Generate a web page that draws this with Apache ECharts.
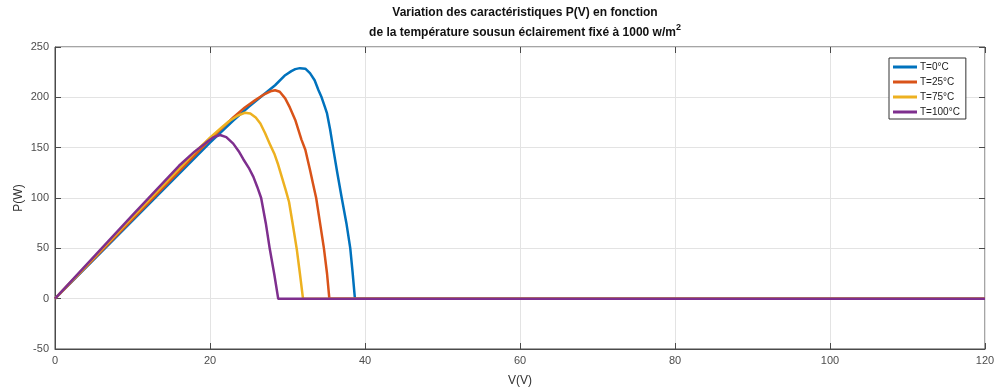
<!DOCTYPE html>
<html>
<head>
<meta charset="utf-8">
<script src="https://cdn.jsdelivr.net/npm/echarts@6/dist/echarts.min.js"></script>
<style>html,body{margin:0;padding:0;background:#fff;}#c{width:998px;height:392px;}</style>
</head>
<body>
<div id="c"></div>
<script>
const seriesNames = ['T=0°C', 'T=25°C', 'T=75°C', 'T=100°C'];
const xTicks = [0, 20, 40, 60, 80, 100, 120];
const yTicks = [-50, 0, 50, 100, 150, 200, 250];

const v0 = [0, 10, 20, 23, 25, 26.5, 28.4, 29.7, 30.5, 31.0, 31.6, 32.3, 32.9, 33.5, 34.0, 34.4, 34.8, 35.1, 35.5, 35.9, 36.4, 37.0, 37.6, 38.1, 38.4, 38.7, 120];
const p0 = [0, 77.5, 155, 177, 190.5, 200, 212, 222, 226, 228, 229, 228.5, 224, 217, 207, 200, 191, 184, 168, 149, 126, 100, 75, 50, 26, 0, 0];

const v25 = [0, 10, 20, 23, 24.5, 25.8, 27, 27.8, 28.4, 29.0, 29.7, 30.3, 31.0, 31.8, 32.3, 32.9, 33.3, 33.7, 34.2, 34.7, 35.1, 35.4, 120];
const p25 = [0, 79, 158, 180, 190, 197, 203, 206, 207, 205.5, 199, 190, 177.5, 158, 148, 128, 114, 100, 75, 50, 25, 0, 0];

const v75 = [0, 10, 18, 20, 21.5, 22.5, 23.5, 24.5, 25.2, 25.9, 26.5, 27.1, 27.7, 28.3, 28.8, 29.3, 29.8, 30.2, 30.7, 31.2, 31.6, 32, 120];
const p75 = [0, 81, 145, 160, 170, 176.5, 181.5, 184.7, 184, 180, 174, 164.5, 154, 144, 133, 120, 107, 96, 73, 49, 25, 0, 0];

const v100 = [0, 10, 16, 18, 19.5, 20.5, 21.3, 22.1, 23.0, 23.7, 24.3, 25.0, 25.6, 26.1, 26.6, 27.2, 27.7, 28.3, 28.8, 120];
const p100 = [0, 83, 132, 146, 155, 160.5, 162.6, 160.5, 154, 146.5, 138.5, 130, 121, 111, 100, 75, 50, 24, 0, 0];

const colors = ['#0072BD', '#D95319', '#EDB120', '#7E2F8E'];
const vs = [v0, v25, v75, v100];
const ps = [p0, p25, p75, p100];

const chart = echarts.init(document.getElementById('c'), null, {renderer: 'canvas'});
const font = 'Liberation Sans, Arial, Helvetica, sans-serif';
const axisColor = '#4a4a4a';

const series = seriesNames.map((name, i) => ({
  name: name,
  type: 'line',
  data: vs[i].map((v, j) => [v, ps[i][j]]),
  showSymbol: false,
  symbol: 'none',
  smooth: false,
  lineStyle: {width: 2.5, color: colors[i], join: 'round'},
  itemStyle: {color: colors[i]},
  animation: false,
  z: 2 + i
}));

const tickOnly = {
  axisLine: {show: false, onZero: false},
  axisTick: {show: true, inside: true, length: 6, lineStyle: {color: axisColor}},
  axisLabel: {show: false},
  splitLine: {show: false}
};

chart.setOption({
  animation: false,
  backgroundColor: '#fff',
  title: {
    left: 520,
    top: -2,
    textAlign: 'center',
    text: '{a|Variation des caractéristiques P(V) en fonction}\n{a|de la température sousun éclairement fixé à 1000 w/m}{s|2}',
    textStyle: {
      rich: {
        a: {fontFamily: font, fontSize: 12, fontWeight: 'bold', color: '#111', lineHeight: 20},
        s: {fontFamily: font, fontSize: 9, fontWeight: 'bold', color: '#111', verticalAlign: 'top', lineHeight: 12, padding: [0, 0, 6, 0]}
      }
    }
  },
  graphic: [{
    type: 'text',
    x: 19, y: 198,
    rotation: Math.PI / 2,
    style: {text: 'P(W)', font: '12px ' + font, fill: '#333', textAlign: 'center', textVerticalAlign: 'middle'}
  }],
  legend: {
    orient: 'vertical',
    left: 889,
    top: 58,
    padding: [4, 6, 2, 4],
    itemGap: 5,
    itemWidth: 24,
    itemHeight: 3,
    icon: 'rect',
    borderColor: '#333',
    borderWidth: 1,
    backgroundColor: '#fff',
    textStyle: {fontFamily: font, fontSize: 10, color: '#222', padding: [0, 0, 0, -2]},
    data: seriesNames
  },
  grid: {left: 55, right: 13, top: 47, bottom: 43, show: true, borderColor: axisColor, borderWidth: 1, containLabel: false},
  xAxis: [{
    type: 'value',
    min: 0, max: 120, interval: 20,
    name: 'V(V)',
    nameLocation: 'middle',
    nameGap: 26,
    nameTextStyle: {fontFamily: font, fontSize: 12, color: '#333'},
    axisLine: {show: true, onZero: false, lineStyle: {color: axisColor}},
    axisTick: {show: true, inside: true, length: 6, lineStyle: {color: axisColor}},
    axisLabel: {fontFamily: font, fontSize: 11, color: '#4d4d4d', margin: 6,
      formatter: v => xTicks.includes(v) ? String(v) : ''},
    splitLine: {show: true, lineStyle: {color: '#e3e3e3', width: 1}}
  }, Object.assign({type: 'value', position: 'top', min: 0, max: 120, interval: 20}, tickOnly)],
  yAxis: [{
    type: 'value',
    min: -50, max: 250, interval: 50,
    axisLine: {show: true, onZero: false, lineStyle: {color: axisColor}},
    axisTick: {show: true, inside: true, length: 6, lineStyle: {color: axisColor}},
    axisLabel: {fontFamily: font, fontSize: 11, color: '#4d4d4d', margin: 6,
      formatter: v => yTicks.includes(v) ? String(v) : ''},
    splitLine: {show: true, lineStyle: {color: '#e3e3e3', width: 1}}
  }, Object.assign({type: 'value', position: 'right', min: -50, max: 250, interval: 50}, tickOnly)],
  series: series
});
</script>
</body>
</html>
